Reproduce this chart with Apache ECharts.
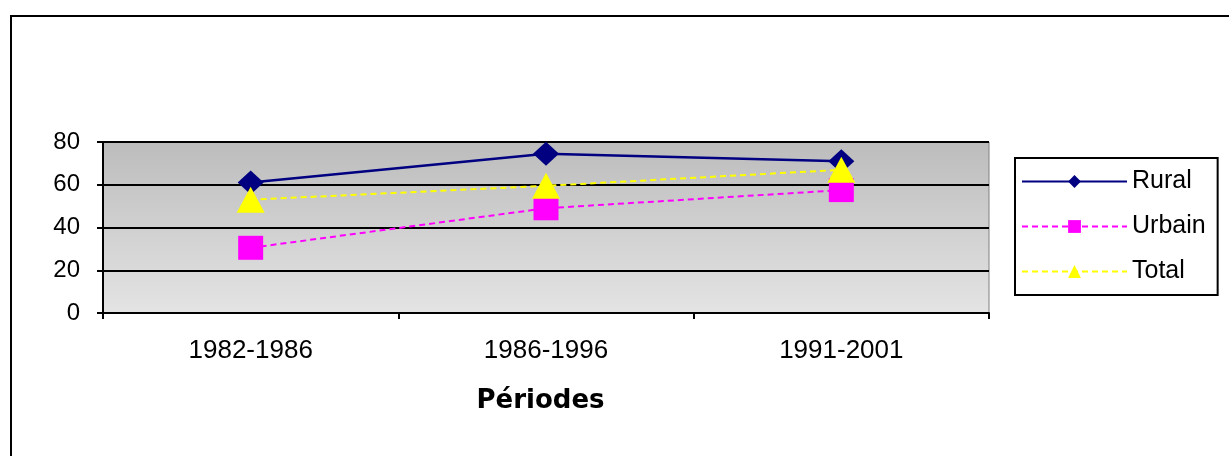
<!DOCTYPE html>
<html><head><meta charset="utf-8">
<script src="https://cdn.jsdelivr.net/npm/echarts@6/dist/echarts.min.js"></script>
<style>
html,body{margin:0;padding:0;background:#fff;overflow:hidden}
#c{position:absolute;left:0;top:0;width:1229px;height:456px}
#frame{position:absolute;left:10px;top:15px;width:1240px;height:460px;border:2px solid #000;box-sizing:border-box;pointer-events:none}
</style></head>
<body>
<div id="c"></div>
<div id="frame"></div>
<script>
const categories = ['1982-1986', '1986-1996', '1991-2001'];
const rural = [61, 74.5, 71];
const urbain = [30.5, 49, 57.5];
const total = [53, 59.5, 67];
const yTicks = [0, 20, 40, 60, 80];

const chart = echarts.init(document.getElementById('c'));
chart.setOption({
  animation: false,
  grid: { left: 103, top: 142, width: 886, height: 171, show: true,
    backgroundColor: new echarts.graphic.LinearGradient(0,0,0,1,[{offset:0,color:'#bcbcbc'},{offset:1,color:'#e4e4e4'}]),
    borderColor: '#808080', borderWidth: 1 },
  legend: {
    left: 1015, top: 158, orient: 'vertical',
    padding: [11, 12, 11, 6], itemGap: 20, itemWidth: 105, itemHeight: 16,
    borderColor: '#000', borderWidth: 2, backgroundColor: '#fff',
    textStyle: { fontFamily: 'Liberation Sans, Arial', fontSize: 25, color: '#000' },
    data: ['Rural', 'Urbain', 'Total']
  },
  xAxis: {
    type: 'category', data: categories, boundaryGap: true,
    name: 'Périodes', nameLocation: 'middle', nameGap: 75,
    nameTextStyle: { fontFamily: 'DejaVu Sans', fontWeight: 'bold', fontSize: 26, color: '#000', padding: [0, 11, 0, 0] },
    axisLine: { lineStyle: { color: '#000', width: 2 } },
    axisTick: { show: true, length: 6, lineStyle: { color: '#000', width: 2 } },
    axisLabel: { fontFamily: 'Liberation Sans, Arial', fontSize: 26, color: '#000', margin: 25 }
  },
  yAxis: {
    type: 'value', min: 0, max: 80, interval: 20,
    axisLine: { show: true, lineStyle: { color: '#000', width: 2 } },
    axisTick: { show: true, length: 6, lineStyle: { color: '#000', width: 2 } },
    axisLabel: { fontFamily: 'Liberation Sans, Arial', fontSize: 24, color: '#000', margin: 23,
      formatter: v => yTicks.includes(v) ? String(v) : '' },
    splitLine: { show: true, lineStyle: { color: '#000', width: 2 } }
  },
  series: [
    { name: 'Rural', type: 'line', data: rural, symbol: 'diamond', symbolSize: [26, 24],
      itemStyle: { color: '#000080' }, lineStyle: { color: '#000080', width: 2.5 }, z: 3 },
    { name: 'Urbain', type: 'line', data: urbain, symbol: 'rect', symbolSize: [25, 24],
      itemStyle: { color: '#ff00ff' }, lineStyle: { color: '#ff00ff', width: 2, type: [6, 4] }, z: 4 },
    { name: 'Total', type: 'line', data: total, symbol: 'triangle', symbolSize: [28, 26],
      itemStyle: { color: '#ffff00' }, lineStyle: { color: '#ffff00', width: 2, type: [6, 4] }, z: 5 }
  ]
});
</script>
</body></html>
